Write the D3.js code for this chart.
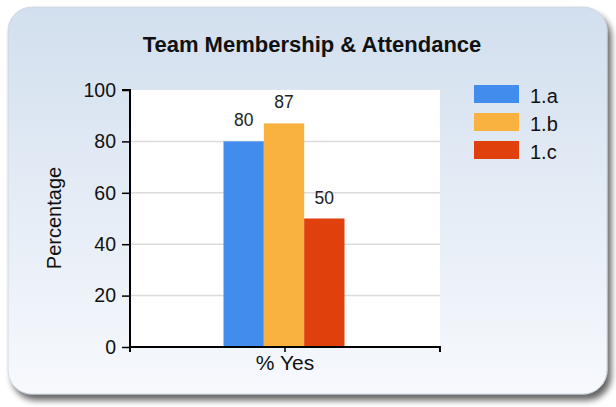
<!DOCTYPE html>
<html><head><meta charset="utf-8">
<script src="https://cdn.jsdelivr.net/npm/d3@7"></script>
<style>body{margin:0;background:#fff;}svg{display:block;font-family:Arial,"Liberation Sans",sans-serif;}</style>
</head><body>
<svg id="c" width="616" height="407"></svg>
<script>
const title = "Team Membership & Attendance";
const categories = ["% Yes"];
const seriesNames = ["1.a", "1.b", "1.c"];
const seriesValues = [80, 87, 50];
const seriesColors = ["#418ced", "#f9b240", "#df400c"];
const yTicks = [0, 20, 40, 60, 80, 100];
const yLabel = "Percentage";

const FONT = "Arial,'Liberation Sans',sans-serif";
const svg = d3.select("#c");
const defs = svg.append("defs");
const g = defs.append("linearGradient").attr("id","bg").attr("x1",0).attr("y1",0).attr("x2",0).attr("y2",1);
g.append("stop").attr("offset","0%").attr("stop-color","#d2dfee");
g.append("stop").attr("offset","100%").attr("stop-color","#f7f9fd");
const f = defs.append("filter").attr("id","sh").attr("x","-5%").attr("y","-5%").attr("width","115%").attr("height","115%");
f.append("feGaussianBlur").attr("in","SourceAlpha").attr("stdDeviation",3);
f.append("feOffset").attr("dx",4).attr("dy",6).attr("result","o");
f.append("feComponentTransfer").append("feFuncA").attr("type","linear").attr("slope",0.6);
const m = f.append("feMerge"); m.append("feMergeNode"); m.append("feMergeNode").attr("in","SourceGraphic");

svg.append("rect").attr("x",8).attr("y",7).attr("width",599).attr("height",387).attr("rx",24)
  .attr("fill","url(#bg)").attr("stroke","#c8d3e0").attr("stroke-width",0.8).attr("filter","url(#sh)");

svg.append("text").attr("x",312).attr("y",52).attr("text-anchor","middle")
  .attr("font-size",22).attr("font-weight","bold").attr("fill","#111").text(title);

const L = 130, R = 440, T = 90, B = 347;
const y = d3.scaleLinear().domain([0,100]).range([B,T]);
const x0 = d3.scaleBand().domain(categories).range([L,R]).paddingInner(0).paddingOuter(0);
const x1 = d3.scaleBand().domain(seriesNames).range([0,121]);

svg.append("rect").attr("x",L).attr("y",T).attr("width",R-L).attr("height",B-T).attr("fill","#fff");

svg.append("g").selectAll("line").data(yTicks.filter(d=>d>0 && d<100)).join("line")
  .attr("x1",L).attr("x2",R).attr("y1",d=>y(d)).attr("y2",d=>y(d))
  .attr("stroke","#dcdcdc").attr("stroke-width",1.5);

const grp = svg.append("g").selectAll("g").data(categories).join("g")
  .attr("transform",c=>`translate(${x0(c)+x0.bandwidth()/2-61.5},0)`);
grp.selectAll("rect").data(seriesNames.map((n,i)=>({n,v:seriesValues[i],c:seriesColors[i]}))).join("rect")
  .attr("x",d=>x1(d.n)).attr("width",x1.bandwidth()).attr("y",d=>y(d.v)).attr("height",d=>B-y(d.v))
  .attr("fill",d=>d.c);
grp.selectAll("text").data(seriesNames.map((n,i)=>({n,v:seriesValues[i]}))).join("text")
  .attr("x",d=>x1(d.n)+x1.bandwidth()/2).attr("y",d=>y(d.v)-15).attr("text-anchor","middle")
  .attr("font-size",17.5).attr("fill","#222").text(d=>d.v);

const ya = svg.append("g").attr("transform",`translate(${L},0)`)
  .call(d3.axisLeft(y).tickValues(yTicks).tickSize(8).tickPadding(6));
ya.select(".domain").attr("stroke","#000").attr("stroke-width",2).attr("d",`M-8,${T}H0V${B}`);
ya.selectAll(".tick line").attr("stroke","#000").attr("stroke-width",1.5);
ya.selectAll("text").attr("font-size",19.5).attr("fill","#111").attr("font-family",FONT);

const xa = svg.append("g").attr("transform",`translate(0,${B})`)
  .call(d3.axisBottom(x0).tickSize(5).tickPadding(3));
xa.select(".domain").attr("stroke","#000").attr("stroke-width",2).attr("d",`M${L},5V0H${R}V5`);
xa.selectAll(".tick line").attr("stroke","#000").attr("stroke-width",1.5);
xa.selectAll("text").attr("font-size",21).attr("fill","#111").attr("font-family",FONT);

svg.append("text").attr("transform","translate(61,218) rotate(-90)").attr("text-anchor","middle")
  .attr("font-size",20).attr("fill","#111").text(yLabel);

const lg = svg.append("g").selectAll("g").data(seriesNames).join("g")
  .attr("transform",(d,i)=>`translate(474,${85+i*28})`);
lg.append("rect").attr("width",45).attr("height",18).attr("fill",(d,i)=>seriesColors[i]);
lg.append("text").attr("x",56).attr("y",18).attr("font-size",20).attr("fill","#111").text(d=>d);
</script>
</body></html>
